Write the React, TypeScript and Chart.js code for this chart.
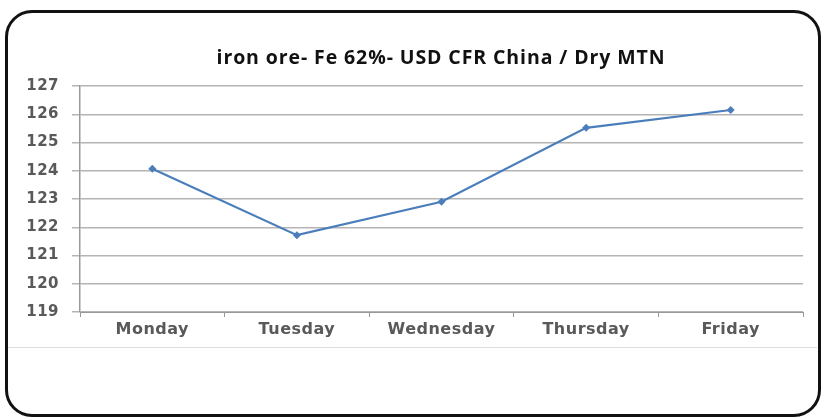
import React, { useEffect, useRef } from "react";
import { Chart, registerables } from "chart.js";

Chart.register(...registerables);

const TITLE = "iron ore- Fe 62%- USD CFR China / Dry MTN";
const DAYS = ["Monday", "Tuesday", "Wednesday", "Thursday", "Friday"];
const PRICES = [124.07, 121.72, 122.9, 125.52, 126.15];
const Y_MIN = 119;
const Y_MAX = 127;
const Y_STEP = 1;

const LINE_COLOR = "#4a7ebb";
const GRID_COLOR = "#b4b4b4";
const TEXT_COLOR = "#595959";
const TICK_SPACING = "0.5px";
const TITLE_SPACING = "0.9px";
const TITLE_SHIFT_X = 27;

const spacingPlugin = {
  id: "letterSpacing",
  beforeDraw(chart: any) {
    const ctx = chart.ctx;
    ctx.letterSpacing = TICK_SPACING;
    const tb = chart.titleBlock;
    if (tb && !tb.__spaced) {
      const orig = tb.draw.bind(tb);
      tb.draw = (...args: any[]) => {
        ctx.save();
        ctx.letterSpacing = TITLE_SPACING;
        ctx.translate(TITLE_SHIFT_X, 0);
        orig(...args);
        ctx.restore();
      };
      tb.__spaced = true;
    }
  },
  afterDraw(chart: any) {
    chart.ctx.letterSpacing = "0px";
  },
};

export default function App() {
  const canvasRef = useRef<HTMLCanvasElement | null>(null);

  useEffect(() => {
    const canvas = canvasRef.current;
    if (!canvas) return;
    const chart = new Chart(canvas, {
      type: "line",
      data: {
        labels: DAYS,
        datasets: [
          {
            label: "Price",
            data: PRICES,
            borderColor: LINE_COLOR,
            backgroundColor: LINE_COLOR,
            borderWidth: 2.2,
            pointStyle: "rectRot",
            pointRadius: 4,
            pointBorderWidth: 0,
            pointBackgroundColor: LINE_COLOR,
            tension: 0,
          },
        ],
      },
      plugins: [spacingPlugin],
      options: {
        animation: false,
        responsive: false,
        maintainAspectRatio: false,
        layout: { padding: { top: 47, left: 25, right: 18, bottom: 75 } },
        plugins: {
          legend: { display: false },
          tooltip: { enabled: false },
          title: {
            display: true,
            text: TITLE,
            color: "#111111",
            font: { family: "'Open Sans', sans-serif", size: 19.5, weight: "bold", lineHeight: 1.2 },
            padding: { top: 0, bottom: 15.6 },
          },
        },
        scales: {
          x: {
            type: "category",
            offset: true,
            grid: {
              offset: true,
              drawOnChartArea: false,
              drawTicks: true,
              tickLength: 5,
              color: "#999999",
            },
            border: { display: true, color: "#999999", width: 1 },
            ticks: {
              color: TEXT_COLOR,
              padding: 3,
              maxRotation: 0,
              font: { family: "'DejaVu Sans', sans-serif", size: 16, weight: "bold" },
            },
            afterFit: (scale: any) => {
              scale.height = 30;
            },
          },
          y: {
            min: Y_MIN,
            max: Y_MAX,
            ticks: {
              stepSize: Y_STEP,
              color: TEXT_COLOR,
              padding: 13,
              font: { family: "'DejaVu Sans', sans-serif", size: 15, weight: "bold" },
            },
            grid: {
              color: GRID_COLOR,
              lineWidth: 1.5,
              drawTicks: true,
              tickLength: 8,
            },
            border: { display: true, color: "#999999", width: 1.5 },
            afterFit: (scale: any) => {
              scale.width = 55;
            },
          },
        },
      },
    });
    return () => chart.destroy();
  }, []);

  return (
    <div
      style={{
        position: "absolute",
        left: 0,
        top: 0,
        width: 821,
        height: 417,
        background: "#ffffff",
        overflow: "hidden",
      }}
    >
      <div
        style={{
          position: "absolute",
          left: 8,
          top: 14,
          width: 809,
          height: 334,
          borderBottom: "1px solid #dddddd",
          boxSizing: "border-box",
        }}
      />
      <div
        style={{
          position: "absolute",
          left: 5,
          top: 10,
          width: 816,
          height: 407,
          border: "3px solid #111111",
          borderRadius: 27,
          boxSizing: "border-box",
        }}
      />
      <canvas
        ref={canvasRef}
        width={821}
        height={417}
        style={{ position: "absolute", left: 0, top: 0, width: 821, height: 417 }}
      />
    </div>
  );
}
